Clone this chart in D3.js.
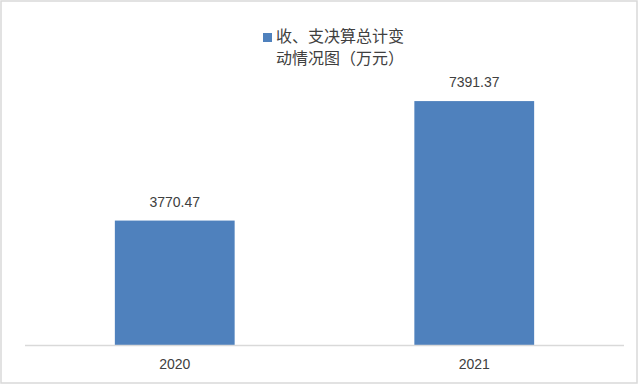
<!DOCTYPE html>
<html>
<head>
<meta charset="utf-8">
<script src="https://cdn.jsdelivr.net/npm/d3@7"></script>
<style>
  html, body { margin: 0; padding: 0; background: #fff; }
  svg { display: block; }
</style>
</head>
<body>
<div id="chart"></div>
<script>
const categories = ['2020', '2021'];
const values = [3770.47, 7391.37];
const legendLines = ['收、支决算总计变', '动情况图（万元）'];
const yMax = 8000;

const width = 640;
const height = 385;
const plot = { left: 25, right: 624, top: 81, bottom: 345 };
const barColor = '#4F81BD';
const textColor = '#404040';

const svg = d3.select('#chart')
  .append('svg')
  .attr('width', width)
  .attr('height', height);

// chart border
svg.append('rect')
  .attr('x', 1)
  .attr('y', 1)
  .attr('width', width - 4)
  .attr('height', height - 3)
  .attr('fill', '#fff')
  .attr('stroke', '#D9D9D9')
  .attr('stroke-width', 1.5);

const x = d3.scaleBand()
  .domain(categories)
  .range([plot.left, plot.right])
  .paddingInner(0.6)
  .paddingOuter(0.3);

const y = d3.scaleLinear()
  .domain([0, yMax])
  .range([plot.bottom, plot.top]);

const data = categories.map((c, i) => ({ label: c, value: values[i] }));

// Bars
svg.selectAll('.bar')
  .data(data)
  .enter()
  .append('rect')
  .attr('class', 'bar')
  .attr('x', d => x(d.label))
  .attr('y', d => y(d.value))
  .attr('width', x.bandwidth())
  .attr('height', d => plot.bottom - y(d.value))
  .attr('fill', barColor);

// X axis
const xAxis = svg.append('g')
  .attr('transform', `translate(0,${plot.bottom})`)
  .call(d3.axisBottom(x).tickSize(0).tickPadding(14));

xAxis.select('.domain')
  .attr('d', `M${plot.left},0.5H${plot.right}`)
  .attr('stroke', '#D9D9D9')
  .attr('stroke-width', 1.5);

xAxis.selectAll('text')
  .attr('font-family', '"Liberation Sans", Arial, sans-serif')
  .attr('font-size', 14)
  .attr('fill', textColor);

// Value labels
svg.selectAll('.label')
  .data(data)
  .enter()
  .append('text')
  .attr('class', 'label')
  .attr('x', d => x(d.label) + x.bandwidth() / 2)
  .attr('y', d => y(d.value) - 14)
  .attr('text-anchor', 'middle')
  .attr('font-family', '"Liberation Sans", Arial, sans-serif')
  .attr('font-size', 14)
  .attr('fill', textColor)
  .text(d => d.value.toFixed(2));

// Legend
const legend = svg.append('g')
  .attr('transform', 'translate(263,33)');

legend.append('rect')
  .attr('width', 9)
  .attr('height', 9)
  .attr('fill', barColor);

legend.selectAll('text')
  .data(legendLines)
  .enter()
  .append('text')
  .attr('x', 13)
  .attr('y', (d, i) => 9 + i * 22)
  .attr('font-family', '"Noto Sans CJK SC", sans-serif')
  .attr('font-size', 16)
  .attr('fill', textColor)
  .text(d => d);
</script>
</body>
</html>
